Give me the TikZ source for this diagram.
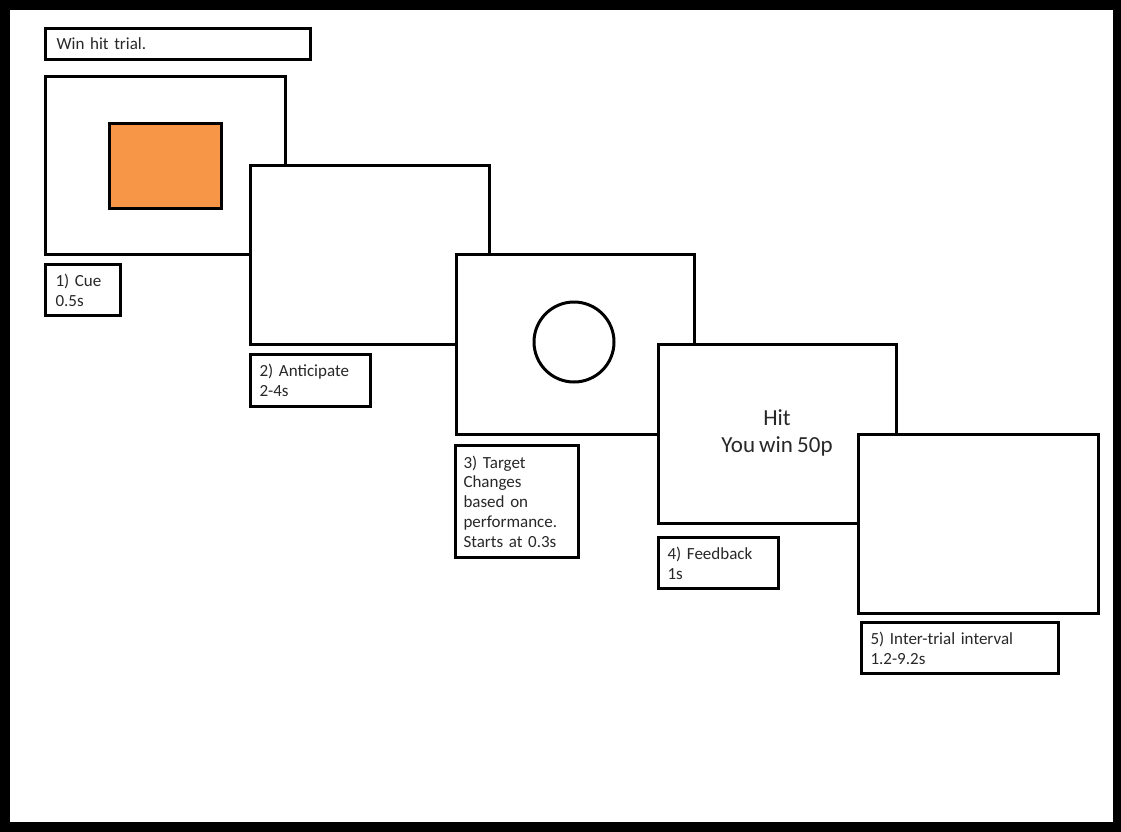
\documentclass[tikz,border=0pt]{standalone}
\usepackage{fontspec}
\setmainfont{Carlito}[WordSpace=0.8]
\definecolor{cueorange}{RGB}{246,150,70}
\definecolor{ink}{RGB}{40,40,40}
\begin{document}
\begin{tikzpicture}[x=1pt,y=-1pt,
  screen/.style={draw=black,line width=3pt,fill=white,anchor=north west,inner sep=0pt},
  labelbox/.style={draw=black,line width=3pt,fill=white,anchor=north west,inner sep=0pt,align=left,font=\fontsize{17}{19.7}\selectfont,text=ink},
]
\useasboundingbox (0,0) rectangle (1121,832);
\fill[black] (0,0) rectangle (1121,832);
\fill[white] (10,10) rectangle (1113,822);

\node[labelbox,minimum width=265pt,minimum height=31pt,text width=243pt] (title) at (44,27) {Win hit trial.};

\node[screen,minimum width=240pt,minimum height=178pt] (s1) at (44,75) {};
\node[draw=black,line width=3pt,fill=cueorange,anchor=north west,minimum width=112pt,minimum height=85pt,inner sep=0pt] (cue) at (108,122) {};
\node[labelbox,minimum width=75pt,minimum height=51pt,text width=55pt] (l1) at (44,263) {1) Cue\\0.5s};

\node[screen,minimum width=239pt,minimum height=179pt] (s2) at (249,164) {};
\node[labelbox,minimum width=120pt,minimum height=52pt,text width=102pt] (l2) at (249,353) {2) Anticipate\\2-4s};

\node[screen,minimum width=238pt,minimum height=180pt] (s3) at (455,253) {};
\node[draw=black,line width=3pt,circle,minimum size=80pt,inner sep=0pt] (target) at (574,342) {};
\node[labelbox,minimum width=123pt,minimum height=112pt,text width=107pt] (l3) at (454,444) {3) Target\\Changes\\based on\\performance.\\Starts at 0.3s};

\node[screen,minimum width=238pt,minimum height=179pt] (s4) at (657,343) {};
\node[align=center,font=\fontsize{23}{27}\selectfont,text=ink] (fb) at (777,433) {Hit\\You win 50p};
\node[labelbox,minimum width=120pt,minimum height=51pt,text width=102pt] (l4) at (657,536) {4) Feedback\\1s};

\node[screen,minimum width=240pt,minimum height=179pt] (s5) at (857,433) {};
\node[labelbox,minimum width=197pt,minimum height=51pt,text width=179pt] (l5) at (860,621) {5) Inter-trial interval\\1.2-9.2s};
\end{tikzpicture}
\end{document}
